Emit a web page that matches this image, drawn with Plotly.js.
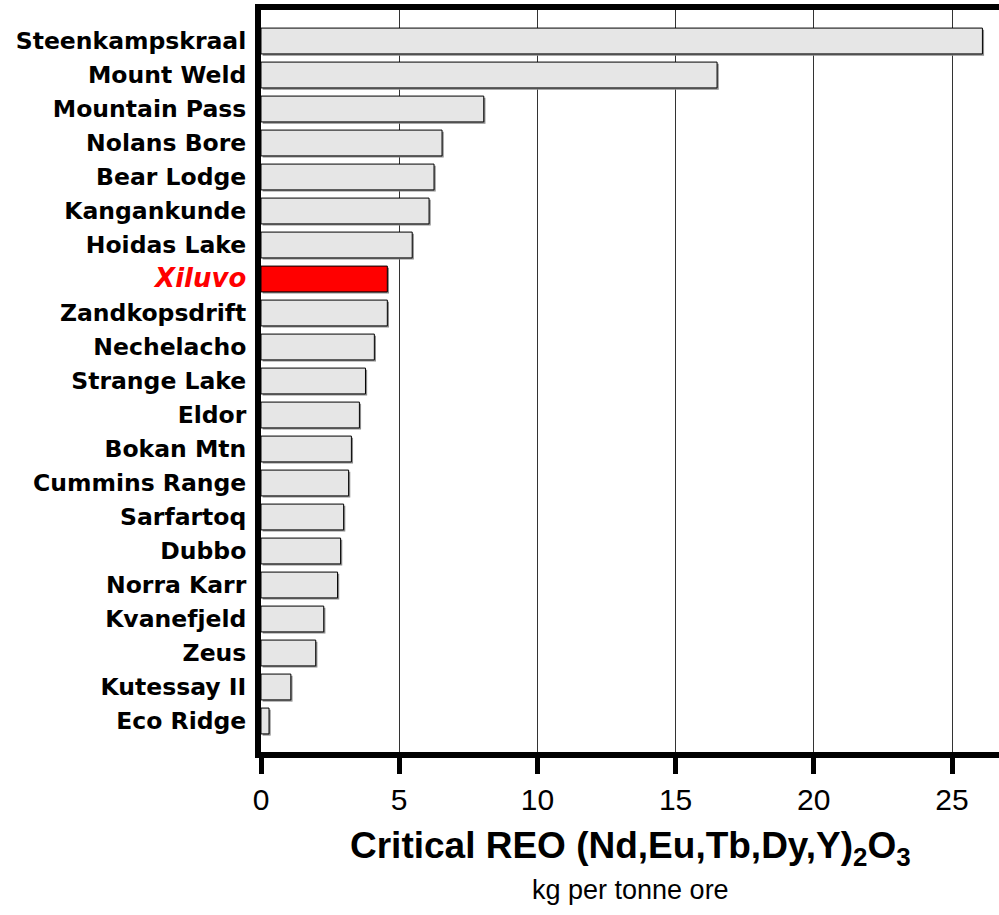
<!DOCTYPE html>
<html><head><meta charset="utf-8">
<script src="https://cdn.plot.ly/plotly-3.0.1.min.js"></script>
<style>html,body{margin:0;padding:0;background:#fff}#c{width:999px;height:915px}</style>
</head><body><div id="c"></div>
<script>
const deposits = ["Steenkampskraal","Mount Weld","Mountain Pass","Nolans Bore","Bear Lodge","Kangankunde","Hoidas Lake","Xiluvo","Zandkopsdrift","Nechelacho","Strange Lake","Eldor","Bokan Mtn","Cummins Range","Sarfartoq","Dubbo","Norra Karr","Kvanefjeld","Zeus","Kutessay II","Eco Ridge"];
const values = [26.1,16.5,8.06,6.55,6.26,6.08,5.47,4.57,4.57,4.1,3.78,3.56,3.27,3.17,2.99,2.88,2.77,2.27,1.98,1.08,0.29];
const highlight = "Xiluvo";
const xTicks = [0,5,10,15,20,25];

const colors = deposits.map(d => d === highlight ? "#ff0000" : "#e6e6e6");
const tickText = deposits.map(d => d === highlight
  ? "<i><span style='color:#ff0000;font-size:26px'>" + d + "</span></i>" : d);

const shadow = {
  type: "bar", orientation: "h", x: values, y: deposits, base: 0.06,
  marker: {color: "#8c8c8c", line: {width: 0}},
  width: 0.76, offset: -0.33, hoverinfo: "skip"
};
const trace = {
  type: "bar", orientation: "h", x: values, y: deposits,
  marker: {color: colors, line: {color: "#000", width: 1}},
  width: 0.76, hoverinfo: "x+y"
};
const layout = {
  width: 999, height: 915,
  margin: {l: 261, r: 0, t: 10, b: 163},
  paper_bgcolor: "#fff", plot_bgcolor: "#fff",
  showlegend: false, barmode: "overlay",
  xaxis: {
    range: [0, 26.7], tickvals: xTicks, ticktext: xTicks.map(String),
    showgrid: true, gridcolor: "#333", gridwidth: 1, zeroline: false,
    showline: true, linecolor: "#000", linewidth: 6, mirror: true,
    ticks: "outside", ticklen: 16, tickwidth: 5, tickcolor: "#000",
    tickfont: {family: "Liberation Sans Narrow, Arial Narrow, Liberation Sans, sans-serif", size: 30, color: "#000"}
  },
  yaxis: {
    type: "category", categoryorder: "array", categoryarray: deposits,
    range: [20.912, -0.912], showgrid: false, zeroline: false,
    showline: true, linecolor: "#000", linewidth: 6,
    ticks: "", tickvals: deposits, ticktext: tickText, ticklabelstandoff: 4,
    tickfont: {family: "DejaVu Sans, Verdana, sans-serif", size: 23.5, color: "#000", weight: "bold"}
  },
  annotations: [
    {xref: "paper", yref: "paper", x: 0.5, y: -0.129, xanchor: "center", yanchor: "middle", showarrow: false,
     text: "<b>Critical REO (Nd,Eu,Tb,Dy,Y)<sub>2</sub>O<sub>3</sub></b>",
     font: {family: "Liberation Sans Narrow, Arial Narrow, Liberation Sans, sans-serif", size: 37, color: "#000"}},
    {xref: "paper", yref: "paper", x: 0.5, y: -0.186, xanchor: "center", yanchor: "middle", showarrow: false,
     text: "kg per tonne ore",
     font: {family: "Liberation Sans Narrow, Arial Narrow, Liberation Sans, sans-serif", size: 27, color: "#000"}}
  ]
};
Plotly.newPlot("c", [shadow, trace], layout, {displayModeBar: false});
</script></body></html>
